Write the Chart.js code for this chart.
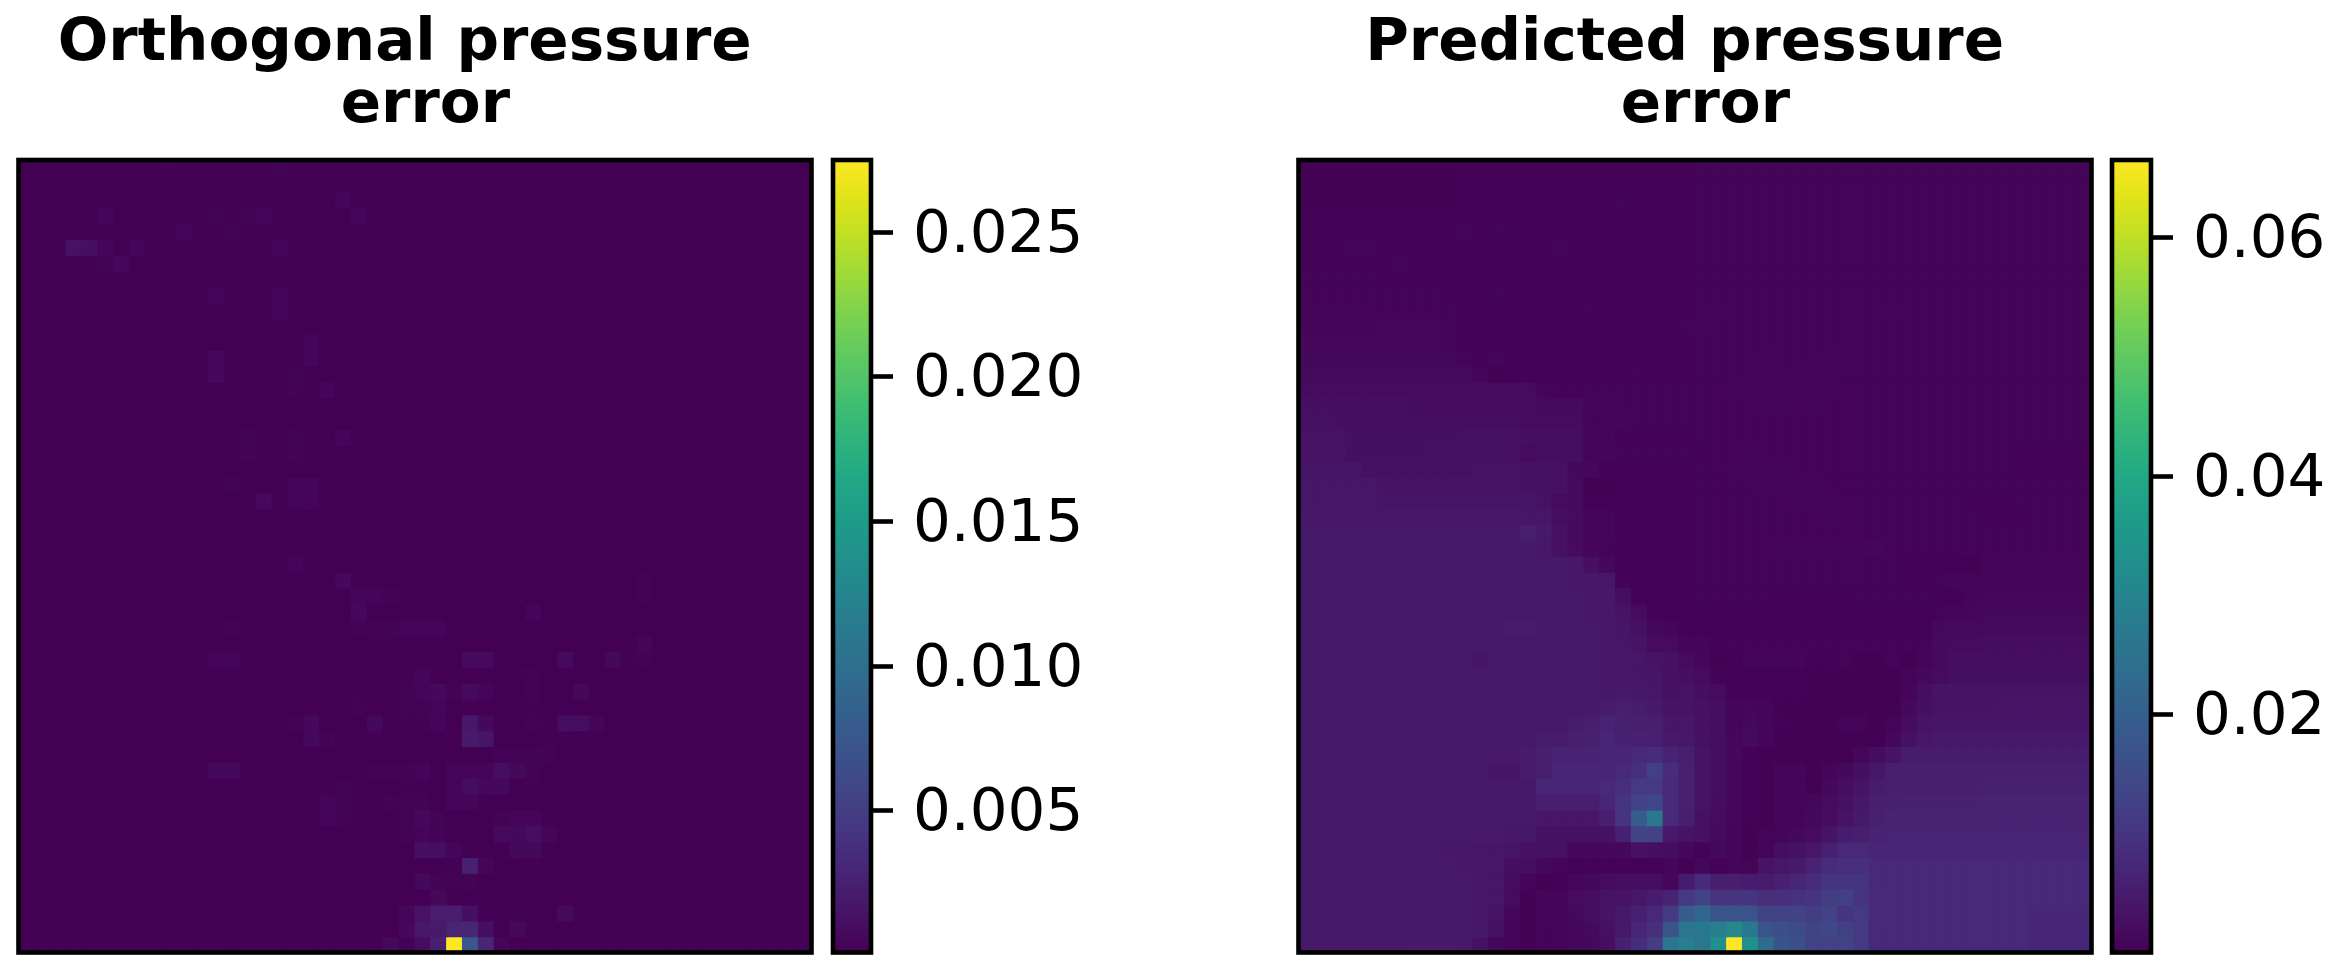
<!DOCTYPE html>
<html>
<head>
<meta charset="utf-8">
<style>
  html, body { margin: 0; background: #fff; width: 2334px; height: 969px; overflow: hidden; }
  canvas { position: absolute; top: 0; }
</style>
<script src="https://cdn.jsdelivr.net/npm/chart.js@4/dist/chart.umd.js"></script>
</head>
<body>
<canvas id="orthogonalHeat" width="830" height="969" style="left:0"></canvas>
<canvas id="orthogonalBar" width="500" height="969" style="left:826px"></canvas>
<canvas id="predictedHeat" width="830" height="969" style="left:1280px"></canvas>
<canvas id="predictedBar" width="229" height="969" style="left:2105px"></canvas>
<script>
// all cell values are in units of 1e-4
const orthogonalTitle = ["Orthogonal pressure ", " error"];
const predictedTitle = ["Predicted pressure ", " error"];
const orthogonalTicks = [0.005, 0.01, 0.015, 0.02, 0.025];
const orthogonalTickLabels = ["0.005", "0.010", "0.015", "0.020", "0.025"];
const predictedTicks = [0.02, 0.04, 0.06];
const predictedTickLabels = ["0.02", "0.04", "0.06"];
const orthogonalRange = [1, 275];
const predictedRange = [1, 665];
const orthogonalBase = 1;

// [row, col, value] for every cell above the flat background
const orthogonalCells = [
  [0,9,2],[0,16,3],[2,20,4],[3,4,2],[3,5,5],[3,12,3],[3,13,2],[3,14,3],[3,15,5],[3,21,4],
  [4,10,5],[4,12,2],[4,13,3],[5,2,2],[5,3,14],[5,4,12],[5,5,4],[5,7,4],[5,16,5],[6,5,3],[6,6,6],
  [8,6,2],[8,12,5],[8,16,5],[9,16,5],[10,12,2],[10,14,2],[10,16,2],[10,21,2],[11,13,2],[11,14,2],
  [11,18,4],[12,11,2],[12,12,6],[12,18,4],[13,11,2],[13,12,6],[13,13,2],[13,17,3],[14,17,3],[14,19,4],
  [17,14,3],[17,17,3],[17,20,5],[18,14,3],[18,17,3],[19,21,2],[20,13,3],[20,17,5],[20,18,5],
  [21,14,2],[21,15,8],[21,17,4],[21,18,5],[22,17,2],[23,16,2],[23,17,2],[25,17,5],[25,29,2],
  [26,20,6],[26,29,2],[26,39,3],[27,19,2],[27,21,4],[27,22,4],[27,23,3],[27,24,2],[27,39,3],
  [28,21,6],[28,29,2],[28,30,2],[28,32,4],[29,13,3],[29,21,3],[29,22,3],[29,23,3],[29,24,4],[29,25,4],[29,26,4],
  [30,9,2],[30,14,2],[30,15,2],[30,16,2],[30,22,2],[30,23,2],[30,38,2],[30,39,4],
  [31,11,2],[31,12,5],[31,13,5],[31,21,2],[31,24,2],[31,26,2],[31,28,8],[31,29,8],[31,30,2],[31,34,8],[31,37,7],[31,38,2],[31,39,3],
  [32,13,2],[32,21,2],[32,24,2],[32,25,5],[32,27,2],[32,29,2],[32,30,2],[32,31,2],[32,32,3],
  [33,21,2],[33,24,3],[33,25,5],[33,26,7],[33,27,3],[33,28,8],[33,29,4],[33,32,3],[33,35,6],
  [34,12,2],[34,13,2],[34,21,3],[34,24,3],[34,25,3],[34,26,4],[34,28,2],[34,32,2],
  [35,15,2],[35,17,3],[35,18,6],[35,22,7],[35,24,2],[35,25,2],[35,26,4],[35,28,18],[35,29,7],[35,32,3],[35,33,2],[35,34,11],[35,35,11],[35,36,5],
  [36,18,7],[36,19,3],[36,22,2],[36,27,2],[36,28,20],[36,29,16],[36,33,2],[36,34,2],[36,36,2],
  [37,30,3],[37,31,3],[37,32,3],[37,33,3],
  [38,12,6],[38,13,6],[38,22,3],[38,23,3],[38,24,3],[38,25,4],[38,27,4],[38,28,4],[38,29,5],[38,30,11],[38,31,6],[38,32,3],
  [39,18,2],[39,19,2],[39,20,3],[39,24,2],[39,25,2],[39,27,5],[39,28,10],[39,29,6],[39,30,6],[39,32,2],
  [40,19,4],[40,20,3],[40,23,3],[40,24,3],[40,25,3],[40,27,5],[40,28,5],[40,29,2],
  [41,19,4],[41,20,3],[41,22,2],[41,24,3],[41,25,7],[41,26,3],[41,30,3],[41,31,5],[41,32,5],[41,33,2],
  [42,24,3],[42,25,5],[42,26,3],[42,30,8],[42,31,7],[42,32,11],[42,33,4],
  [43,25,12],[43,26,11],[43,27,4],[43,28,2],[43,30,2],[43,31,6],[43,32,7],[43,33,2],
  [44,27,2],[44,28,25],[44,29,4],[44,32,2],
  [45,23,2],[45,25,7],[45,26,3],[45,27,3],[45,28,3],[45,32,2],[45,33,2],
  [46,23,2],[46,26,6],[46,27,2],[46,29,2],[46,30,2],[46,31,2],
  [47,8,2],[47,24,5],[47,25,14],[47,26,22],[47,27,22],[47,28,12],[47,29,2],[47,30,2],[47,31,2],[47,32,2],[47,34,8],[47,35,2],
  [48,8,2],[48,24,6],[48,25,18],[48,26,20],[48,27,28],[48,28,30],[48,29,12],[48,31,6],[48,32,2],
  [49,22,2],[49,23,6],[49,24,3],[49,25,10],[49,26,25],[49,27,275],[49,28,75],[49,29,30],[49,30,5]
];

const predictedRows = [
  [3,3,3,3,3, 3,3,3,3,3, 4,4,4,4,4, 4,4,4,5,5, 5,5,5,5,5, 6,6,6,6,6, 6,6,6,6,6, 6,6,6,6,6, 6,6,6,6,6, 6,6,6,6,6],
  [3,3,3,3,3, 3,3,3,3,3, 4,4,4,4,4, 4,4,4,5,5, 5,5,5,5,5, 6,6,6,6,6, 6,6,6,6,6, 6,6,6,6,6, 6,6,6,6,6, 6,6,6,6,6],
  [3,3,3,3,3, 3,3,3,3,3, 4,4,4,4,4, 4,4,4,5,5, 6,5,5,5,5, 6,6,6,6,6, 6,6,6,6,6, 6,6,6,6,6, 6,6,6,6,6, 6,6,6,6,6],
  [4,4,4,4,4, 4,4,4,4,4, 5,5,5,5,5, 5,5,5,5,5, 5,5,5,5,5, 6,6,6,6,6, 6,6,6,6,6, 6,6,6,6,6, 6,6,6,6,6, 6,6,6,6,6],
  [4,4,4,4,4, 4,4,4,4,4, 8,4,6,6,4, 5,5,5,5,5, 5,5,5,5,5, 6,6,6,6,6, 6,6,6,6,6, 6,6,6,6,6, 6,6,6,6,6, 6,6,6,6,6],
  [4,4,4,10,10, 5,5,5,5,5, 4,4,4,4,4, 5,9,5,5,5, 5,5,5,5,5, 6,6,6,6,6, 6,6,6,6,6, 6,6,6,6,6, 6,6,6,6,6, 6,6,6,6,6],
  [5,5,5,5,5, 5,8,5,5,5, 4,4,4,4,4, 4,4,5,5,5, 5,5,5,5,5, 6,6,6,6,6, 6,6,6,6,6, 6,6,6,6,6, 6,6,6,6,6, 6,6,6,6,6],
  [6,6,6,6,6, 5,5,5,5,5, 4,4,4,4,4, 4,4,5,5,5, 5,5,5,5,5, 6,6,6,6,6, 6,6,6,6,6, 6,6,6,6,6, 6,6,6,6,6, 6,6,6,6,6],
  [7,7,7,7,6, 6,6,6,6,5, 4,4,6,4,4, 4,4,5,5,5, 5,5,5,5,5, 6,6,6,6,6, 6,6,6,6,6, 6,6,6,6,6, 6,6,6,6,6, 6,6,6,6,6],
  [8,8,8,8,7, 7,7,7,7,6, 4,4,4,4,4, 4,4,4,7,5, 5,5,5,5,5, 6,8,6,6,6, 6,6,6,6,6, 6,6,8,6,6, 6,6,6,6,6, 6,6,6,6,6],
  [10,10,10,10,10, 12,12,12,12,6, 4,4,4,4,4, 4,4,4,5,5, 5,5,5,5,6, 8,6,6,6,6, 6,6,6,6,6, 6,6,6,6,6, 6,6,6,6,6, 6,6,6,6,6],
  [13,13,13,13,13, 13,13,13,13,6, 4,4,4,4,4, 4,4,4,5,5, 5,5,5,5,5, 6,6,6,6,6, 6,6,6,6,6, 6,6,6,6,6, 6,6,6,6,6, 6,6,6,6,6],
  [15,15,15,15,15, 15,15,15,15,15, 6,5,10,4,4, 4,4,4,5,5, 5,5,5,5,5, 6,6,6,6,9, 6,6,6,9,6, 6,6,6,6,6, 6,6,6,6,6, 6,6,6,6,6],
  [17,17,17,17,17, 17,17,17,17,17, 17,8,3,5,5, 5,5,5,5,5, 5,7,5,5,5, 6,6,6,6,9, 6,9,9,9,6, 6,6,6,6,6, 6,6,6,6,6, 6,6,6,6,6],
  [20,20,20,20,20, 20,20,20,20,20, 20,20,20,20,20, 11,7,7,6,6, 6,6,6,6,6, 6,7,8,8,8, 8,9,9,9,7, 6,6,6,6,6, 6,6,6,6,6, 6,6,6,6,6],
  [26,26,26,26,26, 26,26,23,23,23, 23,23,23,23,23, 18,18,18,8,8, 6,6,6,6,6, 6,7,7,7,8, 8,7,8,7,7, 6,6,6,6,6, 6,6,6,6,6, 6,6,6,6,6],
  [30,30,27,27,27, 27,27,25,25,25, 25,25,25,25,20, 20,20,20,6,6, 8,6,6,6,6, 6,7,7,7,7, 7,7,7,7,7, 6,6,6,6,6, 6,6,6,6,6, 6,6,6,6,6],
  [32,32,32,28,28, 28,28,28,28,28, 30,30,30,30,25, 25,25,25,8,8, 4,5,5,5,5, 6,7,7,7,7, 7,7,7,7,7, 6,6,6,6,6, 6,6,6,6,6, 6,6,6,6,6],
  [35,35,35,28,28, 28,28,28,30,30, 30,30,30,30,20, 25,25,25,10,10, 6,6,6,6,6, 5,7,7,8,7, 7,7,7,7,7, 6,6,6,6,6, 6,6,6,6,6, 5,5,5,5,5],
  [38,38,38,38,30, 30,30,30,30,30, 30,32,32,32,30, 30,30,15,15,5, 5,5,5,5,5, 6,7,8,8,9, 8,7,7,7,7, 6,6,6,6,6, 6,6,6,6,6, 5,5,5,5,5],
  [40,40,40,40,40, 35,35,35,35,35, 35,35,35,35,30, 30,30,18,3,3, 5,5,5,5,5, 6,7,6,6,8, 8,8,8,7,7, 6,6,6,6,6, 6,6,6,6,6, 6,6,6,6,6],
  [40,40,42,42,42, 38,38,38,38,38, 38,38,38,38,38, 32,20,18,5,5, 5,5,5,5,5, 6,7,6,6,6, 7,8,8,8,7, 6,6,6,6,6, 6,6,5,5,5, 6,6,6,6,6],
  [42,42,42,42,42, 42,42,42,42,42, 42,42,42,42,40, 40,25,20,8,8, 5,5,5,5,5, 6,7,7,6,6, 6,7,7,8,7, 6,6,6,6,6, 6,6,6,5,5, 5,6,6,6,6],
  [45,45,45,45,45, 45,45,45,45,45, 45,45,46,46,55, 45,30,18,8,8, 4,4,4,4,4, 6,7,7,7,7, 7,7,7,7,7, 7,6,6,6,6, 6,6,6,6,6, 6,6,6,6,6],
  [45,45,45,45,45, 45,45,45,45,45, 45,45,45,45,45, 42,30,20,10,6, 5,5,5,5,5, 6,7,7,7,7, 8,8,8,8,8, 10,12,7,7,7, 7,7,7,7,6, 6,6,7,7,7],
  [46,46,46,46,46, 46,46,46,46,46, 46,46,46,46,46, 46,46,42,26,16, 4,4,4,4,4, 6,6,6,6,6, 6,6,6,6,6, 6,6,6,4,4, 4,4,3,8,8, 8,8,8,8,8],
  [46,46,46,46,46, 46,46,46,46,46, 46,46,46,46,46, 46,46,44,42,40, 5,4,4,4,4, 6,6,6,6,6, 6,6,6,6,6, 6,6,6,5,5, 6,8,9,9,9, 9,9,9,9,9],
  [46,46,46,46,46, 46,46,46,46,46, 46,46,46,46,46, 46,46,46,42,42, 25,4,4,4,5, 6,6,6,6,6, 5,5,5,5,5, 6,6,6,6,6, 5,5,8,12,12, 12,12,12,12,12],
  [46,46,46,46,46, 46,46,46,46,46, 46,46,46,46,46, 46,46,46,44,42, 35,20,5,4,4, 4,5,5,5,5, 5,5,5,5,5, 5,5,5,5,5, 6,8,12,15,15, 15,15,15,15,15],
  [46,46,46,46,46, 46,46,46,46,46, 46,46,46,50,50, 46,46,46,46,44, 38,30,15,8,5, 5,5,5,5,5, 5,5,5,5,5, 5,5,5,5,5, 15,18,18,18,18, 18,18,18,18,18],
  [46,46,46,46,46, 46,46,46,46,46, 46,46,46,46,46, 46,46,46,46,44, 40,35,20,20,10, 8,5,7,7,7, 7,7,7,7,7, 7,7,7,7,6, 18,20,20,22,22, 22,22,22,22,22],
  [46,46,46,46,46, 46,46,46,46,46, 46,38,46,46,46, 46,46,46,46,44, 42,40,35,30,20, 12,3,4,8,8, 8,8,4,4,7, 3,3,6,2,10, 18,25,25,25,25, 25,25,25,25,25],
  [46,46,46,46,46, 46,46,46,46,46, 46,46,46,46,46, 46,46,46,46,44, 42,40,38,30,25, 20,5,5,5,5, 5,5,3,3,3, 3,3,3,6,15, 20,28,28,28,28, 28,28,28,28,28],
  [46,46,46,46,46, 46,46,46,46,46, 46,46,46,46,46, 46,46,46,46,42, 45,42,40,30,35, 25,20,5,5,5, 5,5,2,2,2, 2,2,2,8,25, 35,35,35,35,35, 35,35,35,35,35],
  [46,46,46,46,46, 46,46,46,46,46, 46,46,46,46,46, 46,46,46,45,50, 55,50,45,35,35, 30,25,8,12,8, 2,2,2,2,2, 2,2,3,15,28, 35,35,35,35,36, 36,36,36,36,36],
  [46,46,46,46,46, 46,46,46,46,46, 46,46,46,46,46, 46,46,50,55,65, 60,58,55,40,40, 30,25,10,15,10, 4,2,2,2,6, 6,2,6,20,35, 38,38,38,38,38, 38,38,38,38,38],
  [46,46,46,46,46, 46,46,46,46,46, 46,46,46,46,46, 50,50,55,60,70, 62,62,60,45,42, 30,25,12,18,10, 2,2,2,2,2, 2,3,12,30,40, 45,45,45,45,45, 45,45,45,45,45],
  [46,46,46,46,46, 46,46,46,46,46, 46,46,46,46,50, 55,65,65,65,70, 70,75,85,65,55, 35,25,15,5,3, 3,3,2,2,2, 12,22,35,50,50, 50,50,50,50,50, 50,50,50,50,50],
  [46,46,46,46,46, 46,46,46,46,46, 46,46,38,38,50, 55,70,70,70,70, 75,90,125,85,60, 35,25,12,5,3, 8,8,3,10,15, 25,40,55,55,55, 55,55,55,55,55, 55,55,55,55,55],
  [46,46,46,46,46, 46,46,46,46,46, 46,46,46,46,46, 70,70,70,70,75, 90,110,110,80,60, 35,25,12,4,3, 8,8,2,15,25, 35,50,55,58,58, 58,58,58,60,60, 60,60,60,60,60],
  [46,46,46,46,46, 46,46,46,46,46, 46,46,46,46,46, 55,55,55,55,70, 100,130,140,80,60, 35,22,12,4,3, 8,8,12,20,30, 42,55,60,62,62, 62,62,62,64,64, 64,64,64,64,64],
  [46,46,46,46,46, 46,46,46,46,46, 46,46,46,46,46, 40,40,40,40,55, 100,190,265,75,55, 30,20,12,4,3, 8,8,15,22,35, 45,60,65,65,65, 65,65,65,65,65, 65,65,65,65,65],
  [46,46,46,46,46, 46,46,46,46,46, 46,46,46,44,42, 30,30,30,30,30, 60,135,130,45,35, 30,18,10,3,6, 10,15,20,35,50, 55,65,68,68,68, 68,68,68,68,68, 68,68,68,68,68],
  [46,46,46,46,46, 46,46,46,46,42, 42,40,40,38,30, 30,30,12,14,14, 14,30,25,22,12, 5,15,8,3,6, 25,30,40,60,75, 75,70,70,70,70, 70,70,70,70,70, 70,70,70,70,70],
  [46,46,46,46,46, 46,46,46,46,46, 42,42,40,25,25, 15,8,5,5,5, 5,5,4,10,3, 12,4,10,6,35, 40,45,65,85,90, 90,75,75,75,75, 75,75,75,75,75, 75,75,75,75,75],
  [46,46,46,46,46, 46,46,46,46,46, 46,42,40,20,8, 3,4,12,15,20, 25,25,25,12,50, 80,55,55,50,50, 60,70,85,100,100, 100,75,75,75,75, 75,75,75,75,75, 75,75,75,75,75],
  [46,46,46,46,46, 46,46,46,46,46, 46,42,40,20,3, 8,8,20,25,35, 35,40,50,65,110, 130,100,100,100,90, 90,95,100,120,125, 100,80,75,75,75, 75,75,75,75,75, 75,75,75,75,75],
  [46,46,46,46,46, 46,46,48,48,48, 46,42,35,12,2, 8,8,15,25,35, 45,60,75,110,190, 220,170,170,170,130, 130,130,120,130,100, 110,80,75,75,75, 75,75,75,75,75, 75,72,72,72,72],
  [46,46,46,46,46, 46,46,48,48,48, 46,42,30,10,2, 6,6,12,18,30, 45,70,90,170,260, 270,280,310,270,170, 160,150,130,140,125, 110,78,75,75,75, 75,75,75,75,75, 75,72,72,72,72],
  [46,46,46,46,46, 46,46,48,48,48, 46,30,12,6,3, 6,10,12,16,25, 60,85,120,260,280, 260,330,665,330,230, 170,160,130,130,130, 110,75,75,75,75, 75,75,75,75,75, 75,72,70,70,70]
];

const viridisStops = ["#440154","#471365","#482475","#463480","#414487","#3b528b","#355f8d","#2f6c8e",
  "#2a788e","#25848e","#21918c","#1e9c89","#22a884","#2fb47c","#44bf70","#5ec962","#7ad151","#9bd93c",
  "#bddf26","#dfe318","#fde725"];

function viridis(t) {
  const pos = Math.min(Math.max(t, 0), 1) * (viridisStops.length - 1);
  const i = Math.min(Math.floor(pos), viridisStops.length - 2);
  const a = viridisStops[i], b = viridisStops[i + 1], f = pos - i;
  const mix = (s) => {
    const x = parseInt(a.substr(s, 2), 16), y = parseInt(b.substr(s, 2), 16);
    return Math.round(x + (y - x) * f);
  };
  return `rgb(${mix(1)},${mix(3)},${mix(5)})`;
}

function cellsToRows(cells, base) {
  const rows = Array.from({ length: 50 }, () => Array(50).fill(base));
  cells.forEach(([r, c, v]) => (rows[r][c] = v));
  return rows;
}

// black axes box drawn over the data
const framePlugin = {
  id: "frame",
  afterDatasetsDraw(chart) {
    const { ctx, chartArea: a } = chart;
    ctx.save();
    ctx.strokeStyle = "#000";
    ctx.lineWidth = 4.6;
    ctx.strokeRect(a.left, a.top, a.right - a.left, a.bottom - a.top);
    ctx.restore();
  },
};

const fontFamily = "'DejaVu Sans'";

function heatChart(id, rows, range, title) {
  const labels = rows[0].map((_, c) => c);
  new Chart(document.getElementById(id), {
    type: "bar",
    data: {
      labels,
      datasets: rows.map((row) => ({
        data: row.map(() => 1),
        backgroundColor: row.map((v) => viridis((v - range[0]) / (range[1] - range[0]))),
        borderWidth: 0,
        barPercentage: 1,
        categoryPercentage: 1,
        inflateAmount: 0.6, // closes the hairline gaps between cells
      })),
    },
    options: {
      responsive: false,
      animation: false,
      devicePixelRatio: 1,
      layout: { padding: { left: 18.5, right: 18.5, top: 0, bottom: 16.5 } },
      plugins: {
        legend: { display: false },
        tooltip: { enabled: false },
        title: {
          display: true,
          text: title,
          color: "#000",
          font: { family: fontFamily, weight: "bold", size: 59.5, lineHeight: 1.042 },
          padding: { top: 13.5, bottom: 22.5 },
        },
      },
      scales: {
        x: { display: false, stacked: true },
        y: { display: false, stacked: true, reverse: true, min: 0, max: 50 },
      },
    },
    plugins: [framePlugin],
  });
}

function colorbarChart(id, range, ticks, tickLabels, padLeft, barWidth) {
  const vmin = range[0] * 1e-4, vmax = range[1] * 1e-4;
  new Chart(document.getElementById(id), {
    type: "bar",
    data: {
      labels: ["cb"],
      datasets: [{
        data: [[vmin, vmax]],
        borderWidth: 0,
        barPercentage: 1,
        categoryPercentage: 1,
        backgroundColor(ctx) {
          const a = ctx.chart.chartArea;
          if (!a) return "#440154";
          const g = ctx.chart.ctx.createLinearGradient(0, a.bottom, 0, a.top);
          viridisStops.forEach((s, i) => g.addColorStop(i / (viridisStops.length - 1), s));
          return g;
        },
      }],
    },
    options: {
      responsive: false,
      animation: false,
      devicePixelRatio: 1,
      layout: { padding: { left: padLeft, right: 0, top: 160, bottom: 16.5 } },
      plugins: { legend: { display: false }, tooltip: { enabled: false } },
      scales: {
        x: { display: false },
        y: {
          position: "right",
          min: vmin,
          max: vmax,
          afterBuildTicks(scale) { scale.ticks = ticks.map((value) => ({ value })); },
          afterFit(scale) {
            scale.width = scale.chart.width - padLeft - barWidth;
            scale.paddingTop = 0;
            scale.paddingBottom = 0;
          },
          grid: { drawOnChartArea: false, drawTicks: true, tickLength: 22, tickWidth: 4.6, tickColor: "#000" },
          border: { display: false },
          ticks: {
            padding: 20,
            labelOffset: 4,
            color: "#000",
            autoSkip: false,
            maxRotation: 0,
            font: { family: fontFamily, size: 59.5 },
            callback: (value) => tickLabels[ticks.indexOf(value)],
          },
        },
      },
    },
    plugins: [framePlugin],
  });
}

heatChart("orthogonalHeat", cellsToRows(orthogonalCells, orthogonalBase), orthogonalRange, orthogonalTitle);
colorbarChart("orthogonalBar", orthogonalRange, orthogonalTicks, orthogonalTickLabels, 7, 38);
heatChart("predictedHeat", predictedRows, predictedRange, predictedTitle);
colorbarChart("predictedBar", predictedRange, predictedTicks, predictedTickLabels, 7, 39);
</script>
</body>
</html>
